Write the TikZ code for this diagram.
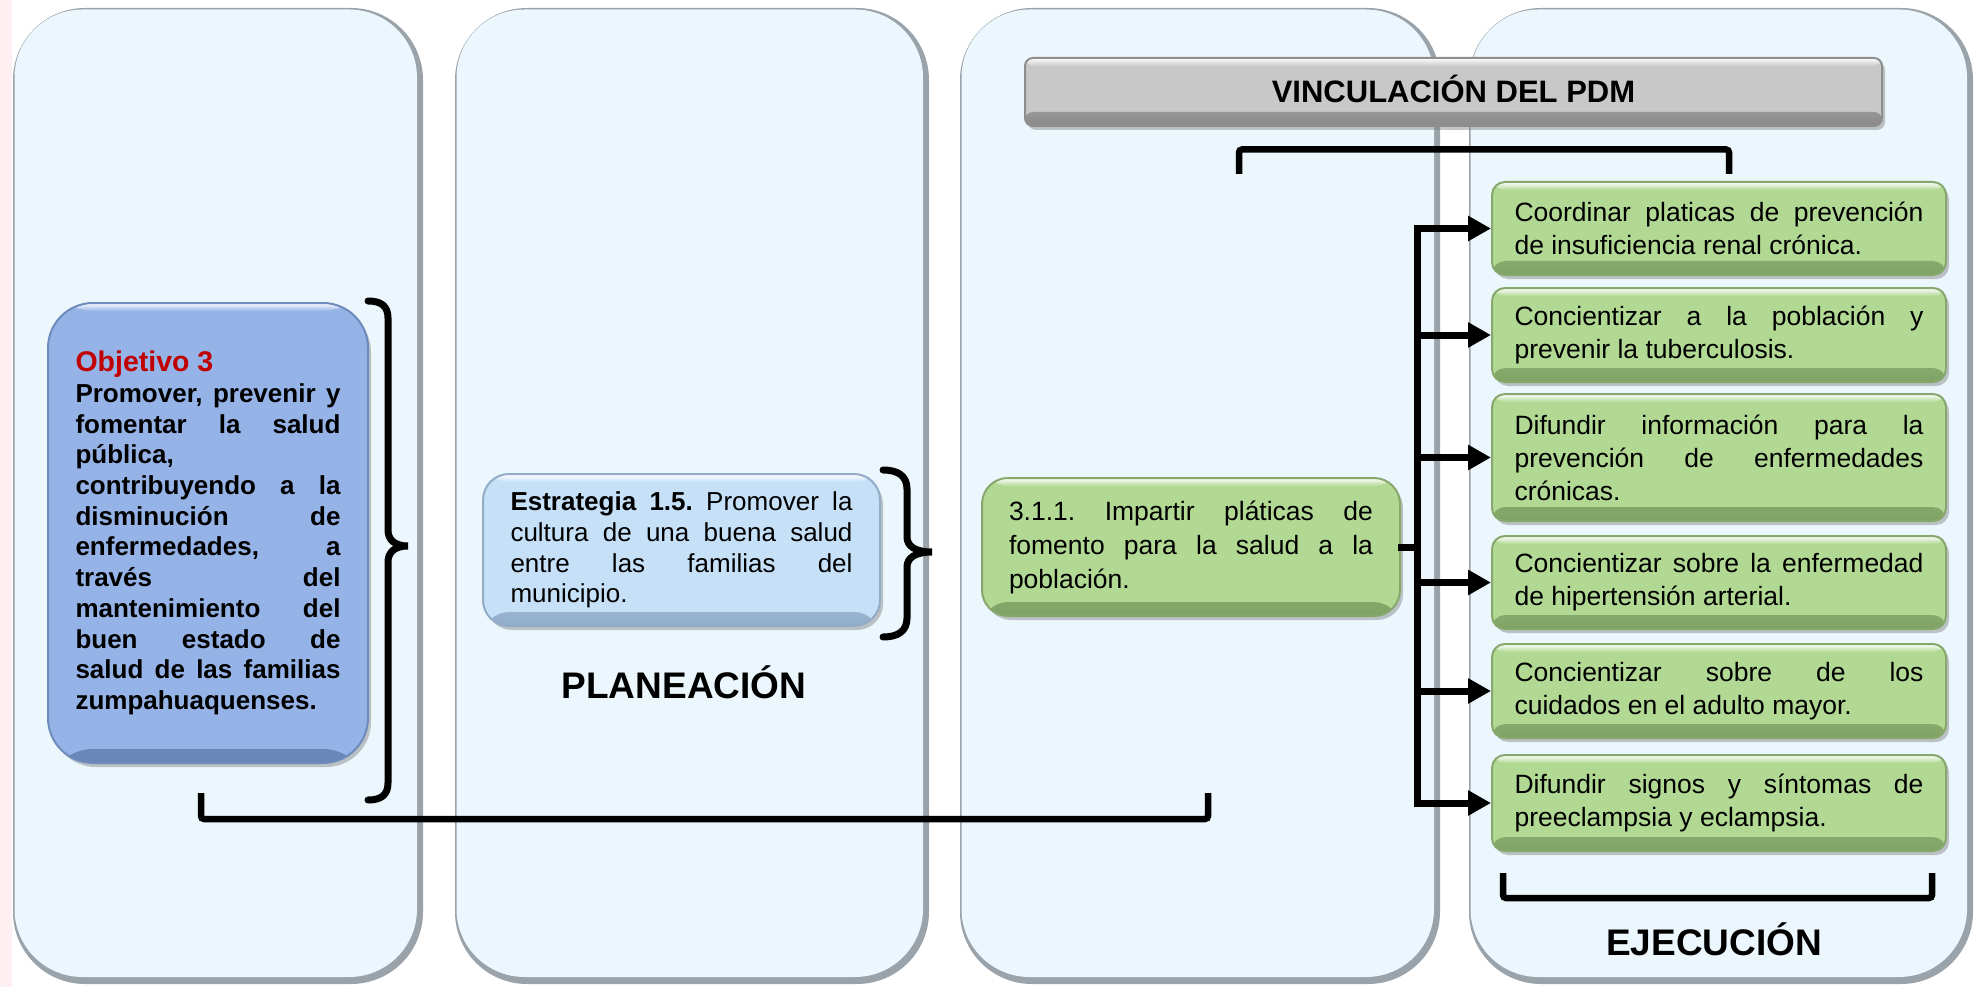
\documentclass[tikz,border=0pt]{standalone}
\usepackage{fontspec}
\setmainfont{Liberation Sans}
\usetikzlibrary{arrows.meta,shadows,calc}
\definecolor{colfill}{HTML}{EBF7FD}
\definecolor{colshade}{HTML}{9AA3AA}
\definecolor{objfill}{HTML}{95B3E7}
\definecolor{objedge}{HTML}{6F8BBE}
\definecolor{objdark}{HTML}{6A86B8}
\definecolor{estfill}{HTML}{C6E0F8}
\definecolor{estedge}{HTML}{93ABC6}
\definecolor{estdark}{HTML}{92AECB}
\definecolor{grfill}{HTML}{B2D993}
\definecolor{gredge}{HTML}{86A86C}
\definecolor{grdark}{HTML}{7FA265}
\definecolor{barfill}{HTML}{C8C8C8}
\definecolor{baredge}{HTML}{8E8E8E}
\definecolor{bardark}{HTML}{8A8A8A}
\definecolor{objred}{HTML}{C00000}
\definecolor{pinkstrip}{HTML}{FDEFF2}
\tolerance=10000
\hbadness=10000
\hyphenpenalty=10000
\exhyphenpenalty=10000
\frenchspacing
\begin{document}
\begin{tikzpicture}[x=1pt,y=-1pt,
  shad/.style={drop shadow={opacity=0.45,shadow xshift=3pt,shadow yshift=-4pt}},
  bevel/.style 2 args={path picture={
     \shade[top color=#1,bottom color=#2] ([yshift=14pt]path picture bounding box.south west) rectangle (path picture bounding box.south east);
     \shade[top color=white,bottom color=#1] (path picture bounding box.north west) rectangle ([yshift=-8pt]path picture bounding box.north east);}},
  objbox/.style={shad,fill=objfill,draw=objedge,line width=2pt,rounded corners=45pt,inner sep=0pt,
     bevel={objfill}{objdark},
     align=justify,text width=265pt,minimum width=320pt,minimum height=460pt,
     font=\bfseries\fontsize{26}{30.7}\selectfont},
  estbox/.style={shad,fill=estfill,draw=estedge,line width=2pt,rounded corners=26pt,inner sep=0pt,
     bevel={estfill}{estdark},
     align=justify,text width=342pt,minimum width=397pt,minimum height=152pt,
     font=\fontsize{26}{30.7}\selectfont},
  actbox/.style={shad,fill=grfill,draw=gredge,line width=2pt,rounded corners=26pt,inner sep=0pt,
     bevel={grfill}{grdark},
     align=justify,text width=364pt,minimum width=418pt,minimum height=138pt,
     font=\fontsize{26.5}{34}\selectfont},
  linebox/.style={shad,fill=grfill,draw=gredge,line width=2pt,rounded corners=13pt,inner sep=0pt,
     bevel={grfill}{grdark},
     align=justify,text width=409pt,minimum width=454pt,
     font=\fontsize{26.5}{33}\selectfont},
  barbox/.style={shad,fill=barfill,draw=baredge,line width=2pt,rounded corners=8pt,inner sep=0pt,
     bevel={barfill}{bardark},
     minimum width=857pt,minimum height=68pt,text height=22pt,text depth=0pt,
     font=\bfseries\fontsize{31}{34}\selectfont},
  phaselabel/.style={anchor=base,inner sep=0pt,font=\bfseries\fontsize{37}{40}\selectfont},
  conn/.style={line width=7pt,line cap=rect,miter limit=10},
  arrowtip/.style={-{Triangle[length=23pt,width=24pt]}},
  bracket/.style={line width=6.5pt,rounded corners=3pt},
  brace/.style={line width=7pt,line cap=round},
]
\useasboundingbox (0,0) rectangle (1979,987);
\fill[white] (0,0) rectangle (1979,987);
\fill[pinkstrip] (0,0) rectangle (12,987);
% columns
\foreach \a/\b in {13/423,455/929,960/1440,1469/1973}{
  \fill[colshade,rounded corners=72pt] (\a,8) rectangle (\b,984);
  \fill[colfill,rounded corners=68pt] (\a+1.5,9.5) rectangle (\b-6,977);
}
% header bar
\node[barbox] (bar) at (1453.5,92) {VINCULACIÓN DEL PDM};
% objective
\node[objbox] (obj) at (208,533) {{\fontsize{28.5}{30.7}\selectfont\color{objred}Objetivo 3}\newline Promover, prevenir y\linebreak fomentar la salud\linebreak pública,\newline contribuyendo a la\linebreak disminución de\linebreak enfermedades, a\linebreak través del\linebreak mantenimiento del\linebreak buen estado de\linebreak salud de las familias\linebreak zumpahuaquenses.};
% strategy
\node[estbox] (est) at (681.5,550) {\textbf{Estrategia 1.5.} Promover la\linebreak cultura de una buena salud\linebreak entre las familias del\linebreak municipio.};
\node[phaselabel] (plan) at (684,698) {PLANEACIÓN};
% action line
\node[actbox] (act) at (1191,547) {3.1.1. Impartir pláticas de\linebreak fomento para la salud a la\linebreak población.};
% right boxes
\node[linebox,minimum height=93pt] (e1) at (1719,228.5) {Coordinar platicas de prevención\linebreak de insuficiencia renal crónica.};
\node[linebox,minimum height=94pt] (e2) at (1719,335) {Concientizar a la población y\linebreak prevenir la tuberculosis.};
\node[linebox,minimum height=127pt] (e3) at (1719,457.5) {Difundir información para la\linebreak prevención de enfermedades\linebreak crónicas.};
\node[linebox,minimum height=93pt] (e4) at (1719,582.5) {Concientizar sobre la enfermedad\linebreak de hipertensión arterial.};
\node[linebox,minimum height=94pt] (e5) at (1719,691) {Concientizar sobre de los\linebreak cuidados en el adulto mayor.};
\node[linebox,minimum height=96pt] (e6) at (1719,803) {Difundir signos y síntomas de\linebreak preeclampsia y eclampsia.};
\node[phaselabel] (ejec) at (1714,955) {EJECUCIÓN};
% braces
\draw[brace] (368,301) .. controls (381,301) and (388,306) .. (388,318) -- (388,530)
  .. controls (388,540) and (395,546) .. (408,546) .. controls (395,546) and (388,552) .. (388,562)
  -- (388,783) .. controls (388,795) and (381,800) .. (368,800);
\draw[brace] (883,470) .. controls (898,470) and (907,476) .. (907,489) -- (907,537)
  .. controls (907,546) and (915,552) .. (932,552) .. controls (915,552) and (907,558) .. (907,567)
  -- (907,618) .. controls (907,631) and (898,637) .. (883,637);
% brackets
\coordinate (tbl) at (1239,174); \coordinate (tbr) at (1729,174);
\draw[bracket] (tbl) -- ++(0,-24.5) -| (tbr);
\coordinate (bbl) at (201,793); \coordinate (bbr) at (1208,793);
\draw[bracket] (bbl) -- ++(0,26) -| (bbr);
\coordinate (ebl) at (1503,873); \coordinate (ebr) at (1932,873);
\draw[bracket] (ebl) -- ++(0,25) -| (ebr);
% tree connectors
\coordinate (tr) at ($(act.east)+(16pt,0)$);
\draw[conn] (act.east) -- (tr);
\draw[conn,arrowtip] (tr |- e6.west) -- (tr |- e1.west) -- (e1.west);
\foreach \n in {e2,e3,e4,e5,e6}{
  \draw[conn,arrowtip] (tr |- \n.west) -- (\n.west);
}
\end{tikzpicture}
\end{document}
